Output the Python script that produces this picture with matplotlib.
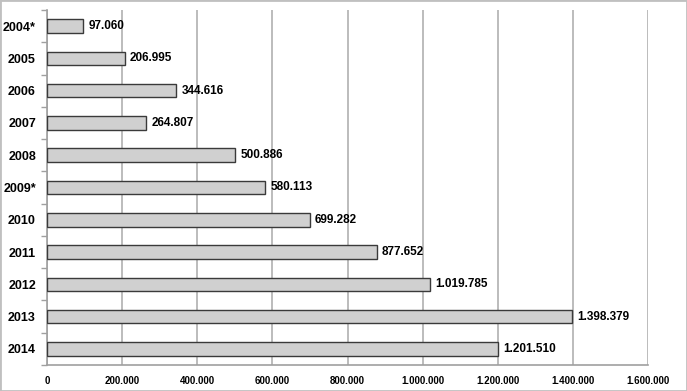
import matplotlib
matplotlib.use("Agg")
import matplotlib.pyplot as plt
from matplotlib.patches import Rectangle

years = ["2004*", "2005", "2006", "2007", "2008", "2009*", "2010", "2011", "2012", "2013", "2014"]
values = [97060, 206995, 344616, 264807, 500886, 580113, 699282, 877652, 1019785, 1398379, 1201510]
xticks = [0, 200000, 400000, 600000, 800000, 1000000, 1200000, 1400000, 1600000]

def fmt(v):
    return f"{v:,}".replace(",", ".")

plt.rcParams['font.family'] = ['Liberation Sans', 'DejaVu Sans']

fig = plt.figure(figsize=(6.87, 3.91), dpi=100)
ax = fig.add_axes([47/687, 1-365/391, (648-47)/687, 355/391])

pos = list(range(len(years)))
ax.barh(pos, values, height=0.42, color="#d0d0d0", edgecolor="#3a3a3a", linewidth=1.0, zorder=3)
for p, v in zip(pos, values):
    ax.text(v + 14000, p, fmt(v), va="center", ha="left", fontsize=8.5, fontweight="bold", zorder=4)

ax.set_ylim(len(years) - 0.5, -0.5)
ax.set_xlim(0, 1600000)
ax.set_yticks(pos)
ax.set_yticklabels(years, fontsize=9, fontweight="bold")
ax.set_xticks(xticks)
ax.set_xticklabels([fmt(t) for t in xticks], fontsize=7, fontweight="bold")
ax.set_yticks([p + 0.5 for p in pos[:-1]] + [-0.5, len(years) - 0.5], minor=True)
ax.tick_params(axis="y", which="major", length=0, pad=8)
ax.tick_params(axis="y", which="minor", length=4, color="#a0a0a0", width=1)
ax.tick_params(axis="x", length=0, pad=8)
ax.grid(axis="x", color="#b0b0b0", linewidth=1.2, zorder=0)
for s in ["top", "right"]:
    ax.spines[s].set_visible(False)
ax.spines["left"].set_color("#a0a0a0")
ax.spines["bottom"].set_color("#a0a0a0")
ax.spines["left"].set_linewidth(1.2)
ax.spines["bottom"].set_linewidth(1.2)

# outer chart frame
fig.patches.append(Rectangle((0, 0), 1, 1, transform=fig.transFigure, fill=False,
                             edgecolor="#c0c0c0", linewidth=2, zorder=0))

fig.savefig("out.png", dpi=100)
